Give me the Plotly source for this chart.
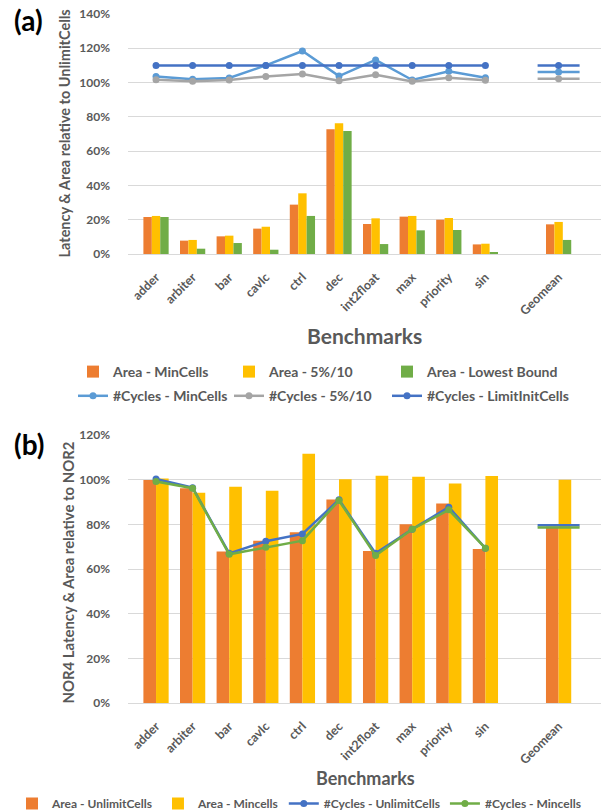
import plotly.graph_objects as go

# ---------------- data ----------------
categories = ["adder", "arbiter", "bar", "cavlc", "ctrl", "dec", "int2float",
              "max", "priority", "sin", " ", "Geomean"]
bench = categories[:10]
geo = ["Geomean"]

# panel (a) bars (%)
a_area_min = [21.6, 7.8, 10.3, 14.8, 28.8, 72.7, 17.5, 21.8, 20.0, 5.6, None, 17.3]
a_area_5 = [22.2, 8.2, 10.7, 15.9, 35.4, 76.2, 20.8, 22.2, 21.0, 6.0, None, 18.7]
a_area_low = [21.6, 3.1, 6.4, 2.5, 22.2, 71.8, 5.8, 13.8, 14.0, 0.6, None, 8.2]
# panel (a) lines (%)
a_cyc_min = [103.6, 101.9, 102.7, 110.0, 118.4, 103.8, 113.2, 101.5, 106.6, 102.8]
a_cyc_5 = [101.7, 100.7, 101.5, 103.6, 105.0, 101.1, 104.6, 100.7, 102.8, 101.3]
a_cyc_lim = [110, 110, 110, 110, 110, 110, 110, 110, 110, 110]
a_geo_min = [106.2]
a_geo_5 = [102.3]
a_geo_lim = [110.0]

# panel (b) bars (%)
b_area_unl = [99.8, 96.2, 67.8, 72.6, 76.5, 91.1, 68.1, 80.0, 89.3, 69.0, None, 79.0]
b_area_min = [100.5, 94.1, 96.8, 95.0, 111.6, 100.2, 101.7, 101.3, 98.3, 101.6, None, 100.0]
# panel (b) lines (%)
b_cyc_unl = [100.3, 96.4, 67.0, 72.4, 75.7, 91.0, 67.0, 77.8, 87.7, 69.3]
b_cyc_min = [99.2, 96.2, 66.6, 69.7, 72.7, 90.7, 66.0, 77.8, 86.5, 69.3]
b_geo_unl = [79.6]
b_geo_min = [78.6]

a_ticks = [0, 20, 40, 60, 80, 100, 120, 140]
b_ticks = [0, 20, 40, 60, 80, 100, 120]

ORANGE = "#ED7D31"
YELLOW = "#FFC000"
GREEN = "#70AD47"
LBLUE = "#5B9BD5"
GRAY = "#A5A5A5"
DBLUE = "#4472C4"
TXT = "#595959"
FONT = "Lato"

fig = go.Figure()

# ---------- panel (a) ----------
a_bar_specs = [("Area - MinCells", a_area_min, ORANGE, "legend"),
               ("Area - 5%/10", a_area_5, YELLOW, "legend2"),
               ("Area - Lowest Bound", a_area_low, GREEN, "legend3")]
for name, vals, col, leg in a_bar_specs:
    fig.add_trace(go.Bar(x=categories, y=vals, name=name, marker_color=col,
                         marker_line_width=0, xaxis="x", yaxis="y",
                         offsetgroup=name, legend=leg, legendgroup="bars",
                         legendrank=1))

a_line_specs = [("#Cycles - MinCells", a_cyc_min, a_geo_min, LBLUE, "legend"),
                ("#Cycles - 5%/10", a_cyc_5, a_geo_5, GRAY, "legend2"),
                ("#Cycles - LimitInitCells", a_cyc_lim, a_geo_lim, DBLUE, "legend3")]
for name, vals, gvals, col, leg in a_line_specs:
    fig.add_trace(go.Scatter(x=bench, y=vals, name=name, mode="lines+markers",
                             line=dict(color=col, width=2.5),
                             marker=dict(color=col, size=7),
                             xaxis="x", yaxis="y", legend=leg, legendgroup="lines",
                             legendrank=2))
    fig.add_trace(go.Scatter(x=geo, y=gvals, mode="markers", showlegend=False,
                             marker=dict(symbol="line-ew", size=30,
                                         line=dict(color=col, width=2.5)),
                             xaxis="x", yaxis="y", hoverinfo="skip"))
    fig.add_trace(go.Scatter(x=geo, y=gvals, mode="markers", showlegend=False,
                             marker=dict(color=col, size=7),
                             xaxis="x", yaxis="y"))

# ---------- panel (b) ----------
for name, vals, col in [("Area - UnlimitCells", b_area_unl, ORANGE),
                        ("Area - Mincells", b_area_min, YELLOW)]:
    fig.add_trace(go.Bar(x=categories, y=vals, name=name, marker_color=col,
                         marker_line_width=0, xaxis="x2", yaxis="y2",
                         offsetgroup=name + "b", legend="legend4"))

for name, vals, gvals, col in [("#Cycles - UnlimitCells", b_cyc_unl, b_geo_unl, DBLUE),
                               ("#Cycles - Mincells", b_cyc_min, b_geo_min, GREEN)]:
    fig.add_trace(go.Scatter(x=bench, y=vals, name=name, mode="lines+markers",
                             line=dict(color=col, width=2.5),
                             marker=dict(color=col, size=7),
                             xaxis="x2", yaxis="y2", legend="legend4"))
    fig.add_trace(go.Scatter(x=geo, y=gvals, mode="markers", showlegend=False,
                             marker=dict(symbol="line-ew", size=30,
                                         line=dict(color=col, width=2.5)),
                             xaxis="x2", yaxis="y2", hoverinfo="skip"))

W, H = 606, 812
xdom = [128 / W, 601 / W]
xtickfont = dict(family=FONT, size=12.5, color=TXT, weight="bold")
ytickfont = dict(family=FONT, size=12, color=TXT, weight="bold")

xcommon = dict(type="category", categoryorder="array", categoryarray=categories,
               tickangle=-45, tickfont=xtickfont, showgrid=False, automargin=False,
               showline=True, linecolor="#D9D9D9", linewidth=1, ticks="",
               ticklabelstandoff=10, domain=xdom, fixedrange=True)
ycommon = dict(tickfont=ytickfont, gridcolor="#D9D9D9", gridwidth=1, automargin=False,
               zeroline=False, showline=False, ticks="", ticklabelstandoff=17,
               fixedrange=True)

legfont = dict(family=FONT, size=14, color=TXT, weight="bold")
title_font = dict(family=FONT, color=TXT, weight="bold")


def col_legend(xpix):
    return dict(orientation="v", x=xpix / W, y=1 - 356 / H, xanchor="left",
                yanchor="top", traceorder="grouped", tracegroupgap=3,
                font=legfont, bgcolor="rgba(0,0,0,0)", itemwidth=30)


fig.update_layout(
    width=W, height=H,
    margin=dict(l=0, r=0, t=0, b=0, autoexpand=False),
    paper_bgcolor="white", plot_bgcolor="white",
    barmode="group", bargap=0.31, bargroupgap=0,
    font=dict(family=FONT, color=TXT),
    xaxis=dict(**xcommon, anchor="y"),
    yaxis=dict(**ycommon, domain=[1 - 254 / H, 1 - 14 / H], range=[0, 140],
               tickvals=a_ticks, ticktext=[f"{v}%" for v in a_ticks], anchor="x"),
    xaxis2=dict(**xcommon, anchor="y2"),
    yaxis2=dict(**ycommon, domain=[1 - 703 / H, 1 - 435 / H], range=[0, 120],
                tickvals=b_ticks, ticktext=[f"{v}%" for v in b_ticks], anchor="x2"),
    legend=col_legend(73),
    legend2=col_legend(229),
    legend3=col_legend(387),
    legend4=dict(orientation="h", x=12 / W, y=1 - 789 / H, xanchor="left", yanchor="top",
                 entrywidth=0, traceorder="normal",
                 font=dict(family=FONT, size=12, color=TXT, weight="bold"),
                 bgcolor="rgba(0,0,0,0)", itemwidth=30),
    annotations=[
        dict(text="(a)", x=12 / W, y=1 - 20 / H, xref="paper", yref="paper",
             xanchor="left", yanchor="middle", showarrow=False,
             font=dict(family=FONT, size=28, color="black", weight="bold")),
        dict(text="(b)", x=12 / W, y=1 - 444 / H, xref="paper", yref="paper",
             xanchor="left", yanchor="middle", showarrow=False,
             font=dict(family=FONT, size=28, color="black", weight="bold")),
        dict(text="Latency & Area relative to UnlimitCells", textangle=-90,
             x=64 / W, y=1 - 133.5 / H, xref="paper", yref="paper",
             xanchor="center", yanchor="middle", showarrow=False,
             font=dict(**title_font, size=14.5)),
        dict(text="NOR4 Latency & Area relative to NOR2", textangle=-90,
             x=67 / W, y=1 - 572.5 / H, xref="paper", yref="paper",
             xanchor="center", yanchor="middle", showarrow=False,
             font=dict(**title_font, size=14.9)),
        dict(text="Benchmarks", x=364.5 / W, y=1 - 335 / H, xref="paper",
             yref="paper", xanchor="center", yanchor="middle", showarrow=False,
             font=dict(**title_font, size=21)),
        dict(text="Benchmarks", x=365 / W, y=1 - 778 / H, xref="paper",
             yref="paper", xanchor="center", yanchor="middle", showarrow=False,
             font=dict(**title_font, size=18)),
    ],
)

fig.write_html("out.html", config={"displayModeBar": False},
               post_script="document.body.style.margin='0';document.body.style.overflow='hidden';")
